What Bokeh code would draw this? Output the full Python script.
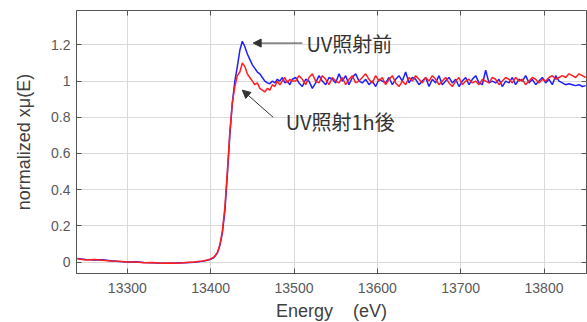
from bokeh.plotting import figure
from bokeh.models import Range1d, FixedTicker, LinearAxis, Arrow, NormalHead, Label, CustomJSTickFormatter
from bokeh.embed import file_html
from bokeh.resources import INLINE

energy_edge = [13240, 13250, 13260, 13270, 13280, 13290, 13300, 13310, 13320, 13330,
               13340, 13350, 13360, 13370, 13380, 13390, 13396, 13400, 13404, 13408,
               13411, 13414, 13417, 13420, 13423, 13426, 13429, 13432, 13435, 13438,
               13441, 13444, 13447, 13450, 13453, 13456, 13459, 13462, 13465, 13468,
               13471, 13474, 13477, 13480, 13483, 13486, 13489, 13492, 13495, 13498]
energy_post = [13502, 13506, 13510, 13514, 13518, 13522, 13526, 13530, 13534, 13538,
               13542, 13546, 13550, 13554, 13558, 13562, 13566, 13570, 13574, 13578,
               13582, 13586, 13590, 13594, 13598, 13602, 13606, 13610, 13614, 13618,
               13622, 13626, 13630, 13634, 13638, 13642, 13646, 13650, 13654, 13658,
               13662, 13666, 13670, 13674, 13678, 13682, 13686, 13690, 13694, 13698,
               13702, 13706, 13710, 13714, 13718, 13722, 13726, 13730, 13734, 13738,
               13742, 13746, 13750, 13754, 13758, 13762, 13766, 13770, 13774, 13778,
               13782, 13786, 13790, 13794, 13798, 13802, 13806, 13810, 13814, 13818,
               13822, 13826, 13830, 13834, 13838, 13842, 13846, 13850]

blue_edge = [0.02, 0.015, 0.012, 0.013, 0.008, 0.003, 0.0, 0.002, -0.002, -0.004,
             -0.006, -0.007, -0.005, -0.004, -0.001, 0.004,
             0.01, 0.015, 0.025, 0.05, 0.09, 0.16, 0.28, 0.48, 0.70, 0.88,
             1.0, 1.08, 1.17, 1.22, 1.19, 1.15, 1.12, 1.09, 1.07, 1.05,
             1.04, 1.02, 1.0, 0.99, 0.985, 1.0, 0.99, 1.01, 1.0, 1.02,
             0.99, 1.0, 0.98, 1.01]
red_edge = [0.018, 0.012, 0.014, 0.010, 0.006, 0.004, 0.001, 0.0, -0.003, -0.002,
            -0.006, -0.005, -0.006, -0.002, 0.0, 0.006,
            0.012, 0.018, 0.028, 0.052, 0.095, 0.17, 0.30, 0.50, 0.72, 0.88,
            0.97, 1.03, 1.05, 1.10, 1.08, 1.04, 1.02, 1.0, 0.98, 0.99,
            0.96, 0.95, 0.94, 0.96, 0.95, 0.98, 0.97, 1.0, 0.98, 1.0,
            1.02, 0.99, 1.01, 1.0]

blue_post = [1.02, 0.99, 0.97, 1.01, 1.00, 0.96, 0.99, 1.03, 1.00, 0.98,
             1.02, 1.01, 0.99, 1.04, 1.00, 1.03, 0.98, 1.02, 1.04, 1.00,
             0.99, 1.01, 0.98, 1.00, 0.97, 1.01, 1.00, 0.99, 1.02, 0.98,
             1.01, 1.03, 1.00, 1.05, 0.99, 1.02, 1.01, 0.98, 1.00, 1.02,
             0.97, 1.01, 0.99, 1.03, 0.98, 1.00, 1.02, 0.99, 1.01, 0.97,
             1.00, 1.02, 0.98, 1.01, 1.03, 0.99, 0.98, 1.06, 0.99, 1.00,
             0.99, 1.01, 0.97, 1.00, 0.99, 1.02, 0.98, 1.01, 1.00, 1.03,
             0.99, 1.01, 0.98, 1.00, 1.02, 0.99, 1.01, 0.98, 1.03, 1.00,
             0.99, 0.98, 0.985, 0.98, 0.975, 0.98, 0.97, 0.975]
red_post = [1.00, 1.03, 1.01, 0.98, 1.02, 1.04, 1.00, 0.99, 1.03, 1.01,
            0.98, 1.02, 1.00, 0.99, 1.02, 0.98, 1.01, 1.03, 0.99, 1.00,
            1.02, 1.04, 1.01, 0.99, 1.03, 1.00, 1.02, 0.98, 1.01, 1.03,
            0.99, 0.97, 1.00, 0.98, 1.02, 1.00, 1.03, 1.01, 0.99, 1.02,
            1.00, 1.03, 1.01, 0.98, 1.00, 1.02, 0.99, 0.97, 1.00, 1.02,
            0.98, 1.00, 1.01, 0.99, 1.00, 0.98, 1.01, 1.00, 0.99, 1.02,
            1.01, 0.98, 1.00, 1.02, 1.01, 0.99, 1.02, 1.00, 1.01, 0.98,
            1.00, 1.02, 1.01, 0.99, 1.01, 1.00, 1.02, 1.03, 1.01, 1.02,
            1.03, 1.02, 1.04, 1.03, 1.02, 1.04, 1.03, 1.02]

x_ticks = [13300, 13400, 13500, 13600, 13700, 13800]
y_ticks = [0, 0.2, 0.4, 0.6, 0.8, 1, 1.2]

energy = energy_edge + energy_post
blue = blue_edge + blue_post
red = red_edge + red_post

p = figure(frame_width=510, frame_height=263, output_backend="svg", toolbar_location=None,
           x_range=Range1d(13239, 13851), y_range=Range1d(-0.063, 1.39),
           min_border_left=76, min_border_right=1, min_border_top=10, min_border_bottom=49)
p.background_fill_color = "white"
p.border_fill_color = "white"
p.outline_line_color = "#555555"
p.outline_line_width = 1

p.line(energy, blue, line_color="#1f1fff", line_width=1.5)
p.line(energy, red, line_color="#ff1f1f", line_width=1.5)

for ax in (p.xaxis[0], p.yaxis[0]):
    ax.major_tick_in = 5
    ax.major_tick_out = 0
    ax.minor_tick_line_color = None
    ax.major_tick_line_color = "#555555"
    ax.axis_line_color = "#555555"
    ax.major_label_text_color = "#595959"
    ax.major_label_text_font = "Liberation Sans"
    ax.major_label_text_font_size = "14px"
    ax.axis_label_text_font = "Liberation Sans"
    ax.axis_label_text_font_style = "normal"
    ax.axis_label_text_color = "#404040"

p.xaxis.ticker = FixedTicker(ticks=x_ticks)
p.yaxis.ticker = FixedTicker(ticks=y_ticks)
p.yaxis.major_label_overrides = {0: "0", 1: "1"}
p.xaxis.axis_label = "Energy\u00a0\u00a0\u00a0\u00a0(eV)"
p.yaxis.axis_label = "normalized xμ(E)"
p.xaxis.axis_label_text_font_size = "18px"
p.yaxis.axis_label_text_font_size = "18px"
p.xaxis.major_label_standoff = 9
p.yaxis.major_label_standoff = 6
p.xaxis.axis_label_standoff = 5
p.yaxis.axis_label_standoff = 14

p.xgrid.ticker = FixedTicker(ticks=x_ticks)
p.ygrid.ticker = FixedTicker(ticks=y_ticks)
p.grid.grid_line_color = "#d9d9d9"
p.grid.grid_line_width = 1

blank = CustomJSTickFormatter(code="return '';")
top = LinearAxis(ticker=FixedTicker(ticks=x_ticks), major_tick_in=5, major_tick_out=0,
                 minor_tick_line_color=None, axis_line_color=None,
                 major_tick_line_color="#555555", formatter=blank,
                 major_label_standoff=0)
right = LinearAxis(ticker=FixedTicker(ticks=y_ticks), major_tick_in=5, major_tick_out=0,
                   minor_tick_line_color=None, axis_line_color=None,
                   major_tick_line_color="#555555", formatter=blank,
                   major_label_standoff=0)
p.add_layout(top, "above")
p.add_layout(right, "right")

p.add_layout(Arrow(x_start=13510, y_start=1.21, x_end=13451, y_end=1.21,
                   line_color="#333333", line_width=1,
                   end=NormalHead(size=8, fill_color="#333333", line_color="#333333")))
p.add_layout(Arrow(x_start=13475, y_start=0.80, x_end=13438, y_end=0.95,
                   line_color="#333333", line_width=1,
                   end=NormalHead(size=8, fill_color="#333333", line_color="#333333")))
p.add_layout(Label(x=13515, y=1.205, text="UV照射前", text_font="Noto Sans CJK JP",
                   text_font_size="20px", text_color="#333333", text_baseline="middle"))
p.add_layout(Label(x=13490, y=0.776, text="UV照射1h後", text_font="Noto Sans CJK JP",
                   text_font_size="20px", text_color="#333333", text_baseline="middle"))

open("out.html", "w").write(file_html(p, INLINE))
